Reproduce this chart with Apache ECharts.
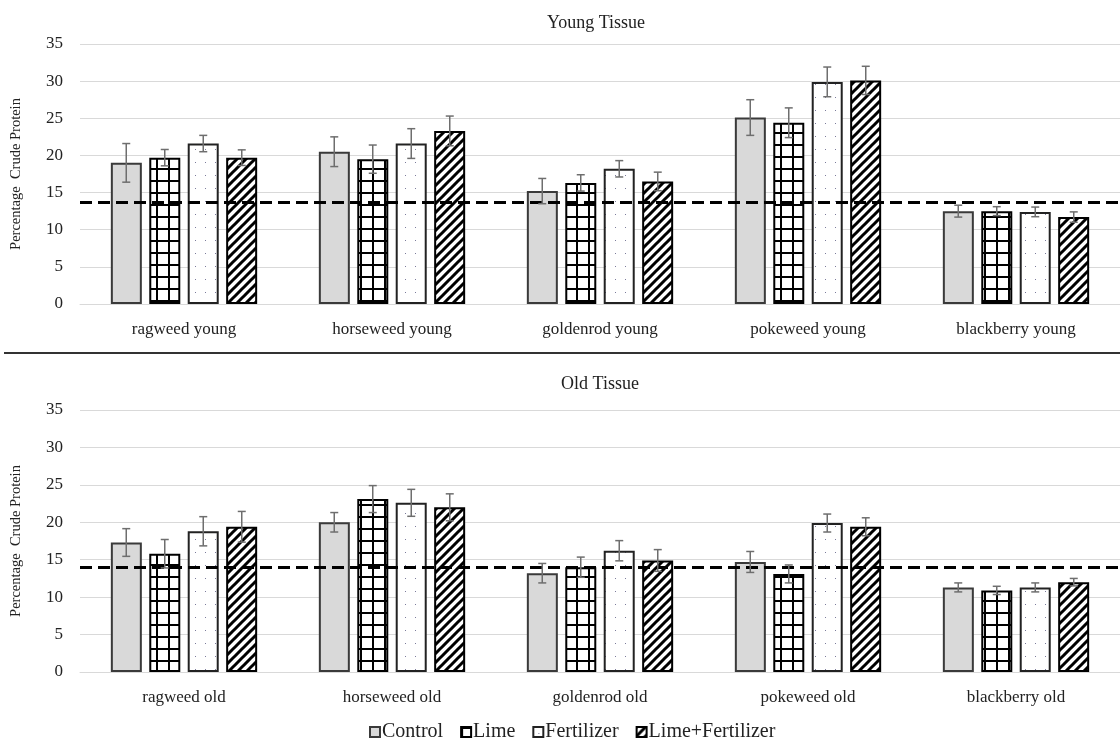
<!DOCTYPE html>
<html>
<head>
<meta charset="utf-8">
<script src="https://cdn.jsdelivr.net/npm/echarts@6/dist/echarts.min.js"></script>
<style>
  html, body { margin: 0; padding: 0; background: #fff; }
  #chart { width: 1120px; height: 738px; }
</style>
</head>
<body>
<div id="chart"></div>
<script>
// categories
const youngCats = ['ragweed young', 'horseweed young', 'goldenrod young', 'pokeweed young', 'blackberry young']
const oldCats = ['ragweed old', 'horseweed old', 'goldenrod old', 'pokeweed old', 'blackberry old']
const treatments = ['Control', 'Lime', 'Fertilizer', 'Lime+Fertilizer']
const yTicks = [0, 5, 10, 15, 20, 25, 30, 35]

// young tissue values and errors
const youngControl = [19.0, 20.5, 15.2, 25.1, 12.5]
const youngLime = [19.7, 19.5, 16.3, 24.4, 12.5]
const youngFert = [21.6, 21.6, 18.2, 29.9, 12.4]
const youngLimeFert = [19.7, 23.3, 16.5, 30.1, 11.7]
const youngControlErr = [2.6, 2.0, 1.7, 2.4, 0.8]
const youngLimeErr = [1.1, 1.9, 1.1, 2.0, 0.6]
const youngFertErr = [1.1, 2.0, 1.1, 2.0, 0.65]
const youngLimeFertErr = [1.05, 2.0, 1.25, 1.9, 0.7]

// old tissue values and errors
const oldControl = [17.3, 20.0, 13.2, 14.7, 11.3]
const oldLime = [15.8, 23.1, 14.0, 13.1, 10.9]
const oldFert = [18.8, 22.6, 16.2, 19.9, 11.3]
const oldLimeFert = [19.4, 22.0, 14.9, 19.4, 12.0]
const oldControlErr = [1.85, 1.3, 1.3, 1.4, 0.6]
const oldLimeErr = [1.9, 1.8, 1.35, 1.2, 0.55]
const oldFertErr = [1.95, 1.8, 1.35, 1.2, 0.6]
const oldLimeFertErr = [2.05, 1.8, 1.45, 1.2, 0.5]

// threshold (dashed line)
const youngThreshold = 13.7
const oldThreshold = 14.0

const FONT = 'Liberation Serif'
const BAR_W = 31
const BAR_STEP = 38.5

function tile(w, h, draw) {
  const c = document.createElement('canvas')
  c.width = w
  c.height = h
  const ctx = c.getContext('2d')
  ctx.fillStyle = '#fff'
  ctx.fillRect(0, 0, w, h)
  draw(ctx)
  return c
}

const gridPattern = tile(12, 12, ctx => {
  ctx.fillStyle = '#000'
  ctx.fillRect(0, 0, 12, 2)
  ctx.fillRect(0, 0, 2, 12)
})
const dotPattern = tile(10, 13, ctx => {
  ctx.fillStyle = '#7c7c9c'
  ctx.fillRect(5, 6, 1, 1)
})
const stripePattern = tile(9, 9, ctx => {
  ctx.strokeStyle = '#000'
  ctx.lineWidth = 3
  ctx.beginPath()
  ctx.moveTo(-1, 10); ctx.lineTo(10, -1)
  ctx.moveTo(-2, 2); ctx.lineTo(2, -2)
  ctx.moveTo(7, 11); ctx.lineTo(11, 7)
  ctx.stroke()
})

const fills = [
  { color: '#d9d9d9', borderColor: '#3a3a3a' },
  { color: { image: gridPattern, repeat: 'repeat' }, borderColor: '#000' },
  { color: { image: dotPattern, repeat: 'repeat' }, borderColor: '#222' },
  { color: { image: stripePattern, repeat: 'repeat' }, borderColor: '#000' }
]

function barSeries(name, idx, values, gi) {
  return {
    name: name,
    type: 'bar',
    xAxisIndex: gi,
    yAxisIndex: gi,
    barWidth: BAR_W,
    barGap: '24%',
    data: values,
    itemStyle: {
      color: fills[idx].color,
      borderColor: fills[idx].borderColor,
      borderWidth: 2
    },
    emphasis: { disabled: true }
  }
}

function errSeries(idx, values, errs, gi, threshold) {
  const s = {
    type: 'custom',
    xAxisIndex: gi,
    yAxisIndex: gi,
    z: 5,
    silent: true,
    data: values.map((v, i) => [i, v, errs[i]]),
    renderItem(params, api) {
      const x = api.value(0)
      const v = api.value(1)
      const e = api.value(2)
      const hi = api.coord([x, v + e])
      const lo = api.coord([x, v - e])
      const cx = hi[0] + (idx - 1.5) * BAR_STEP
      const st = { stroke: '#6e6e6e', lineWidth: 1.5 }
      return {
        type: 'group',
        children: [
          { type: 'line', shape: { x1: cx, y1: hi[1], x2: cx, y2: lo[1] }, style: st },
          { type: 'line', shape: { x1: cx - 4, y1: hi[1], x2: cx + 4, y2: hi[1] }, style: st },
          { type: 'line', shape: { x1: cx - 4, y1: lo[1], x2: cx + 4, y2: lo[1] }, style: st }
        ]
      }
    }
  }
  if (threshold !== undefined) {
    s.markLine = {
      silent: true,
      symbol: 'none',
      label: { show: false },
      lineStyle: { type: [12, 6], width: 3, color: '#000' },
      data: [{ yAxis: threshold }]
    }
  }
  return s
}

function xAxis(cats, gi) {
  return {
    type: 'category',
    gridIndex: gi,
    data: cats,
    axisTick: { show: false },
    axisLine: { lineStyle: { color: '#d9d9d9', width: 1 } },
    axisLabel: { color: '#222', fontFamily: FONT, fontSize: 17, margin: 17 },
    splitLine: { show: false }
  }
}

function yAxis(gi) {
  return {
    type: 'value',
    gridIndex: gi,
    min: yTicks[0],
    max: yTicks[yTicks.length - 1],
    interval: 5,
    name: 'Percentage  Crude Protein',
    nameLocation: 'middle',
    nameGap: 56,
    nameTextStyle: { color: '#222', fontFamily: FONT, fontSize: 14.5 },
    axisLine: { show: false },
    axisTick: { show: false },
    axisLabel: { color: '#222', fontFamily: FONT, fontSize: 17, margin: 17 },
    splitLine: { lineStyle: { color: '#d9d9d9', width: 1 } }
  }
}

const chart = echarts.init(document.getElementById('chart'), null, { renderer: 'canvas' })

const series = []
const youngVals = [youngControl, youngLime, youngFert, youngLimeFert]
const youngErrs = [youngControlErr, youngLimeErr, youngFertErr, youngLimeFertErr]
const oldVals = [oldControl, oldLime, oldFert, oldLimeFert]
const oldErrs = [oldControlErr, oldLimeErr, oldFertErr, oldLimeFertErr]
treatments.forEach((t, i) => series.push(barSeries(t, i, youngVals[i], 0)))
treatments.forEach((t, i) => series.push(barSeries(t, i, oldVals[i], 1)))
treatments.forEach((t, i) => series.push(errSeries(i, youngVals[i], youngErrs[i], 0, i === 3 ? youngThreshold : undefined)))
treatments.forEach((t, i) => series.push(errSeries(i, oldVals[i], oldErrs[i], 1, i === 3 ? oldThreshold : undefined)))

chart.setOption({
  backgroundColor: '#fff',
  animation: false,
  title: [
    { text: 'Young Tissue', left: 591, top: 9, textAlign: 'center',
      textStyle: { fontFamily: FONT, fontSize: 18, fontWeight: 'normal', color: '#222' } },
    { text: 'Old Tissue', left: 595, top: 370, textAlign: 'center',
      textStyle: { fontFamily: FONT, fontSize: 18, fontWeight: 'normal', color: '#222' } }
  ],
  legend: {
    data: treatments,
    left: 364,
    top: 717,
    itemWidth: 10,
    itemHeight: 10,
    itemGap: 17,
    icon: 'rect',
    textStyle: { fontFamily: FONT, fontSize: 20, color: '#222', padding: [0, 0, 0, -3] },
    selectedMode: false
  },
  grid: [
    { left: 80, right: -8, top: 44, height: 260 },
    { left: 80, right: -8, top: 410, height: 262 }
  ],
  xAxis: [xAxis(youngCats, 0), xAxis(oldCats, 1)],
  yAxis: [yAxis(0), yAxis(1)],
  graphic: [
    { type: 'line', shape: { x1: 4, y1: 353, x2: 1120, y2: 353 },
      style: { stroke: '#333', lineWidth: 2 }, silent: true }
  ],
  series: series
})
</script>
</body>
</html>
